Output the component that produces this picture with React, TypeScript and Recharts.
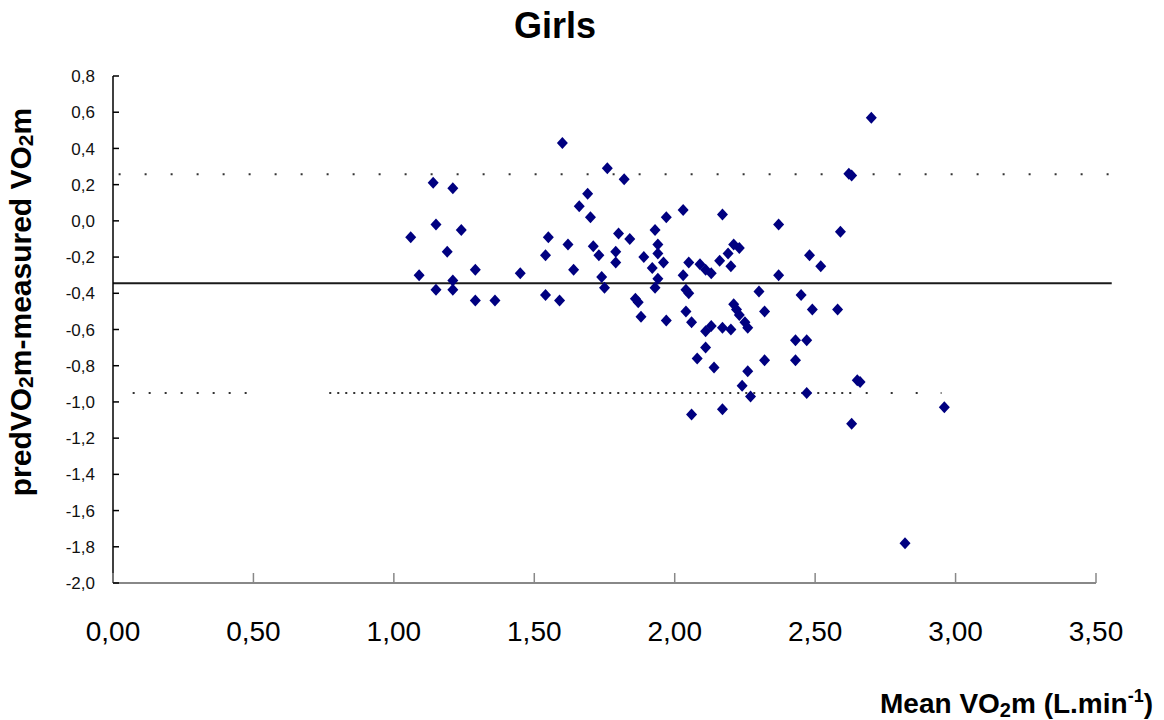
import { ScatterChart, Scatter, XAxis, YAxis, ReferenceLine } from "recharts";

// mean VO2m (L/min) and the difference predicted - measured
const meanVO2 = [
  1.6, 1.76, 1.82, 1.14, 1.21, 1.69, 1.66, 2.03, 1.97, 1.7, 2.17, 1.15, 1.24,
  1.93, 1.06, 1.55, 1.8, 1.84, 1.62, 1.94, 1.71, 2.21, 2.23, 1.19, 1.54, 1.73,
  1.79, 1.94, 2.19, 1.79, 1.96, 2.05, 1.89, 1.92, 2.09, 2.11, 2.13, 2.16, 2.2,
  1.09, 1.29, 1.45, 1.64, 1.74, 1.94, 2.03, 1.21, 1.15, 1.21, 1.75, 1.93, 2.04,
  2.05, 2.3, 1.29, 1.36, 1.54, 1.59, 1.86, 1.87, 2.21, 2.22, 2.23, 2.25, 2.26,
  1.88, 1.97, 2.04, 2.06, 2.11, 2.13, 2.17, 2.2, 2.11, 2.08, 2.14, 2.26, 2.24,
  2.27, 2.06, 2.17, 2.7, 2.62, 2.63, 2.37, 2.59, 2.48, 2.52, 2.37, 2.45, 2.49,
  2.58, 2.32, 2.43, 2.47, 2.43, 2.32, 2.65, 2.66, 2.47, 2.96, 2.63, 2.82,
];
const diffVO2 = [
  0.43, 0.29, 0.23, 0.21, 0.18, 0.15, 0.08, 0.06, 0.02, 0.02, 0.035, -0.02,
  -0.05, -0.05, -0.09, -0.09, -0.07, -0.1, -0.13, -0.13, -0.14, -0.13, -0.15,
  -0.17, -0.19, -0.19, -0.17, -0.18, -0.18, -0.23, -0.23, -0.23, -0.2, -0.26,
  -0.24, -0.27, -0.29, -0.22, -0.25, -0.3, -0.27, -0.29, -0.27, -0.31, -0.32,
  -0.3, -0.33, -0.38, -0.38, -0.37, -0.37, -0.38, -0.4, -0.39, -0.44, -0.44,
  -0.41, -0.44, -0.43, -0.45, -0.46, -0.49, -0.52, -0.56, -0.59, -0.53, -0.55,
  -0.5, -0.56, -0.61, -0.58, -0.59, -0.6, -0.7, -0.76, -0.81, -0.83, -0.91,
  -0.97, -1.07, -1.04, 0.57, 0.26, 0.25, -0.02, -0.06, -0.19, -0.25, -0.3,
  -0.41, -0.49, -0.49, -0.5, -0.66, -0.66, -0.77, -0.77, -0.88, -0.89, -0.95,
  -1.03, -1.12, -1.78,
];

const xTicks = [0, 0.5, 1, 1.5, 2, 2.5, 3, 3.5];
const yTicks = [-2, -1.8, -1.6, -1.4, -1.2, -1, -0.8, -0.6, -0.4, -0.2, 0, 0.2, 0.4, 0.6, 0.8];

// bias and limits of agreement
const MEAN_DIFF = -0.345;
const UPPER_LOA = 0.258;
const LOWER_LOA = -0.95;

const data = meanVO2.map((x, i) => ({ x, y: diffVO2[i] }));

const FONT = "'Liberation Sans', Arial, sans-serif";

const comma = (v: number, d: number) => v.toFixed(d).replace(".", ",");

function XTick({ x, y, payload }: any) {
  return (
    <g>
      <line x1={x} x2={x} y1={y} y2={y - 10} stroke="#888" strokeWidth={1.5} />
      <text x={x} y={y + 58} textAnchor="middle" fontSize={28} fontFamily={FONT} fill="#000">
        {comma(payload.value, 2)}
      </text>
    </g>
  );
}

function YTick({ x, y, payload }: any) {
  return (
    <g>
      <line x1={x} x2={x + 6} y1={y} y2={y} stroke="#000" strokeWidth={1.5} />
      <text x={x - 18} y={y} dy="0.36em" textAnchor="end" fontSize={17} fontFamily={FONT} fill="#111">
        {comma(payload.value, 1)}
      </text>
    </g>
  );
}

const Diamond = ({ cx, cy }: any) => (
  <path d={`M${cx},${cy - 6}L${cx + 5.5},${cy}L${cx},${cy + 6}L${cx - 5.5},${cy}Z`} fill="#000080" />
);

export default function App() {
  return (
    <div style={{ position: "absolute", left: 0, top: 0, width: 1164, height: 720, background: "#fff" }}>
      <ScatterChart width={1164} height={720} margin={{ top: 76, right: 68, bottom: 0, left: 0 }}>
        <XAxis
          type="number"
          dataKey="x"
          domain={[0, 3.5]}
          ticks={xTicks}
          interval={0}
          height={137}
          tickLine={false}
          tickSize={0}
          tickMargin={0}
          tick={<XTick />}
          axisLine={{ stroke: "#888", strokeWidth: 2 }}
        />
        <YAxis
          type="number"
          dataKey="y"
          domain={[-2, 0.8]}
          ticks={yTicks}
          interval={0}
          width={113}
          tickLine={false}
          tickSize={0}
          tickMargin={0}
          tick={<YTick />}
          axisLine={{ stroke: "#000", strokeWidth: 1.5 }}
        />
        <ReferenceLine
          segment={[{ x: 0.02, y: UPPER_LOA }, { x: 3.57, y: UPPER_LOA }]}
          ifOverflow="visible"
          stroke="#333"
          strokeWidth={2}
          strokeDasharray="2 24"
        />
        <ReferenceLine
          segment={[{ x: 0.07, y: LOWER_LOA }, { x: 0.52, y: LOWER_LOA }]}
          stroke="#333"
          strokeWidth={2}
          strokeDasharray="2 14"
        />
        <ReferenceLine
          segment={[{ x: 0.77, y: LOWER_LOA }, { x: 2.65, y: LOWER_LOA }]}
          stroke="#333"
          strokeWidth={2}
          strokeDasharray="2 6"
        />
        <ReferenceLine
          segment={[{ x: 2.68, y: LOWER_LOA }, { x: 2.95, y: LOWER_LOA }]}
          stroke="#333"
          strokeWidth={2}
          strokeDasharray="2 23"
        />
        <ReferenceLine
          segment={[{ x: 3.27, y: LOWER_LOA }, { x: 3.52, y: LOWER_LOA }]}
          stroke="#333"
          strokeWidth={2}
          strokeDasharray="2 14"
        />
        <ReferenceLine
          segment={[{ x: 0, y: MEAN_DIFF }, { x: 3.556, y: MEAN_DIFF }]}
          ifOverflow="visible"
          stroke="#1a1a1a"
          strokeWidth={2}
        />
        <Scatter data={data} shape={<Diamond />} isAnimationActive={false} />
      </ScatterChart>
      <svg
        width={1164}
        height={720}
        style={{ position: "absolute", left: 0, top: 0, pointerEvents: "none" }}
        fontFamily={FONT}
      >
        <text x={555} y={38} textAnchor="middle" fontSize={36} fontWeight="bold" fill="#000">
          Girls
        </text>
        <text
          x={31}
          y={302}
          transform="rotate(-90 31 302)"
          textAnchor="middle"
          fontSize={30}
          fontWeight="bold"
          fill="#000"
        >
          predVO<tspan fontSize={21} dy={2}>2</tspan>
          <tspan dy={-2}>m-measured VO</tspan>
          <tspan fontSize={21} dy={2}>2</tspan>
          <tspan dy={-2}>m</tspan>
        </text>
        <text x={1153} y={713} textAnchor="end" fontSize={28} fontWeight="bold" fill="#000">
          Mean VO<tspan fontSize={20} dy={4}>2</tspan>
          <tspan dy={-4}>m (L.min</tspan>
          <tspan fontSize={18} dy={-11}>-1</tspan>
          <tspan dy={11}>)</tspan>
        </text>
      </svg>
    </div>
  );
}
